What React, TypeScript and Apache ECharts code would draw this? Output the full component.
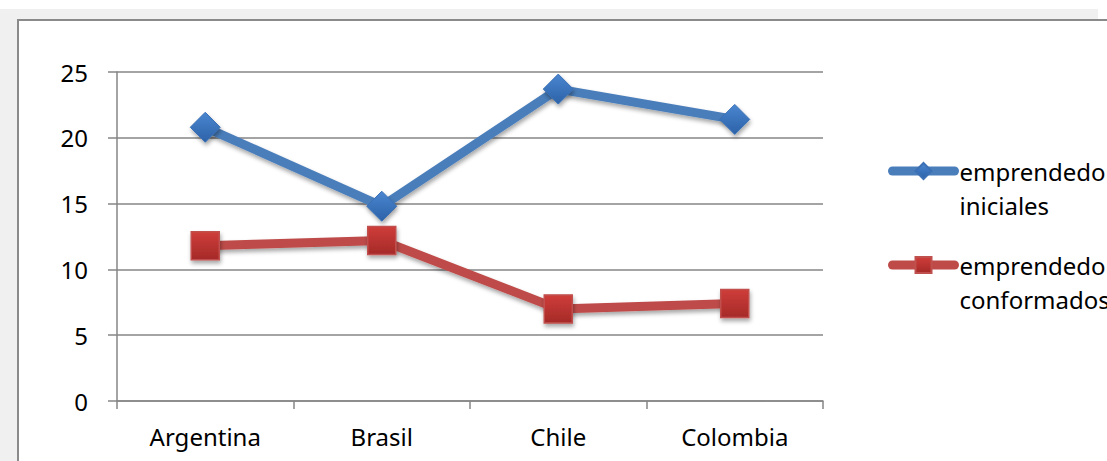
import React, { useEffect, useRef } from "react";
import * as echarts from "echarts";

const categories = ["Argentina", "Brasil", "Chile", "Colombia"];
const seriesNames = ["emprendedores iniciales", "emprendedores conformados"];
const inicialesValues = [20.8, 14.8, 23.7, 21.4];
const conformadosValues = [11.8, 12.2, 7.0, 7.4];
const yTicks = { min: 0, max: 25, interval: 5 };

const FONT = "Noto Sans";
const BLUE = "#4a7ebb";
const RED = "#be4b48";

export default function App() {
  const ref = useRef<HTMLDivElement>(null);
  useEffect(() => {
    document.body.style.margin = "0";
    if (!ref.current) return;
    const chart = echarts.init(ref.current, null, { renderer: "svg" });
    const shadow = {
      shadowBlur: 4,
      shadowOffsetX: 1,
      shadowOffsetY: 3,
      shadowColor: "rgba(0,0,0,0.35)",
    };
    const legendText = (name: string) => {
      const parts = name.split(" ");
      return " \n" + parts[0] + "\n" + parts.slice(1).join(" ");
    };
    const legendCommon = {
      left: 883,
      itemWidth: 62,
      itemHeight: 20,
      itemGap: 0,
      formatter: legendText,
      lineStyle: { width: 9, cap: "round" },
      textStyle: { fontFamily: FONT, fontSize: 24, color: "#000", lineHeight: 34 },
    };
    chart.setOption({
      animation: false,
      backgroundColor: "#ffffff",
      textStyle: { fontFamily: FONT },
      graphic: [
        {
          type: "rect",
          silent: true,
          z: -10,
          shape: { x: 0, y: 9, width: 1098, height: 460 },
          style: { fill: "#f0f0f0" },
        },
        {
          type: "rect",
          silent: true,
          z: -9,
          shape: { x: 18, y: 20, width: 1200, height: 500 },
          style: { fill: "#ffffff", stroke: "#8a8a8a", lineWidth: 2 },
        },
      ],
      grid: { left: 117, right: 284, top: 72, bottom: 60, containLabel: false },
      legend: [
        { ...legendCommon, data: [seriesNames[0]], top: 115 },
        { ...legendCommon, data: [seriesNames[1]], top: 209 },
      ],
      xAxis: {
        type: "category",
        data: categories,
        boundaryGap: true,
        axisLine: { lineStyle: { color: "#868686", width: 1.5 } },
        axisTick: { show: true, length: 8, lineStyle: { color: "#868686", width: 1.5 } },
        axisLabel: { fontFamily: FONT, fontSize: 24, color: "#000", margin: 23 },
      },
      yAxis: {
        type: "value",
        min: yTicks.min,
        max: yTicks.max,
        interval: yTicks.interval,
        axisLine: { show: true, lineStyle: { color: "#868686", width: 1.5 } },
        axisTick: { show: true, length: 9, lineStyle: { color: "#868686", width: 1.5 } },
        splitLine: { show: true, lineStyle: { color: "#868686", width: 1.5 } },
        axisLabel: { fontFamily: FONT, fontSize: 24, color: "#000", margin: 29 },
      },
      series: [
        {
          name: seriesNames[0],
          type: "line",
          data: inicialesValues,
          symbol: "diamond",
          symbolSize: 30,
          lineStyle: { color: BLUE, width: 9, ...shadow },
          itemStyle: {
            color: new echarts.graphic.LinearGradient(0, 0, 0, 1, [
              { offset: 0, color: "#4a86d0" },
              { offset: 1, color: "#2c62a8" },
            ]),
            borderColor: "#3b70b5",
            borderWidth: 1,
            ...shadow,
          },
        },
        {
          name: seriesNames[1],
          type: "line",
          data: conformadosValues,
          symbol: "rect",
          symbolSize: 28,
          lineStyle: { color: RED, width: 9, ...shadow },
          itemStyle: {
            color: new echarts.graphic.LinearGradient(0, 0, 0, 1, [
              { offset: 0, color: "#cf3d3a" },
              { offset: 1, color: "#a52a28" },
            ]),
            borderColor: "#c0504d",
            borderWidth: 1.5,
            ...shadow,
          },
        },
      ],
    });
    return () => chart.dispose();
  }, []);
  return <div ref={ref} style={{ width: 1107, height: 461 }} />;
}
